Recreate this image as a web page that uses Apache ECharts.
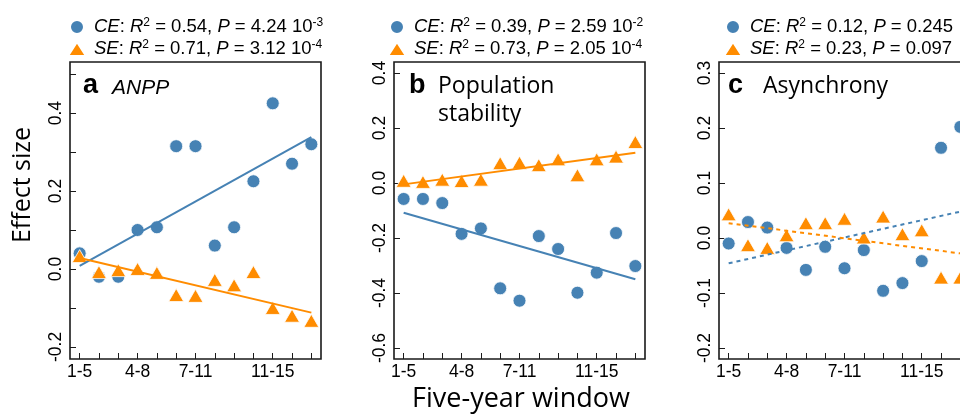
<!DOCTYPE html>
<html>
<head>
<meta charset="utf-8">
<script src="https://cdn.jsdelivr.net/npm/echarts@6/dist/echarts.min.js"></script>
<style>
html,body{margin:0;padding:0;background:#fff;}
#chart{width:960px;height:416px;}
</style>
</head>
<body>
<div id="chart"></div>
<script>
// ---------- data ----------
const windows = ['1-5','2-6','3-7','4-8','5-9','6-10','7-11','8-12','9-13','10-14','11-15','12-16','13-17'];
const shownLabels = ['1-5','4-8','7-11','11-15'];

const anppCE = [0.04, -0.02, -0.02, 0.10, 0.107, 0.315, 0.315, 0.06, 0.107, 0.225, 0.425, 0.27, 0.32];
const anppSE = [0.033, -0.008, -0.003, 0.0, -0.01, -0.067, -0.069, -0.028, -0.042, -0.008, -0.10, -0.12, -0.133];
const anppFitCE = [0.008, 0.338];
const anppFitSE = [0.028, -0.112];

const stabCE = [-0.058, -0.058, -0.073, -0.185, -0.165, -0.383, -0.428, -0.193, -0.24, -0.399, -0.326, -0.182, -0.302];
const stabSE = [0.008, 0.004, 0.012, 0.007, 0.012, 0.072, 0.074, 0.065, 0.086, 0.028, 0.086, 0.096, 0.149];
const stabFitCE = [-0.108, -0.35];
const stabFitSE = [-0.005, 0.11];

const asynCE = [-0.01, 0.029, 0.019, -0.018, -0.058, -0.016, -0.055, -0.022, -0.096, -0.082, -0.042, 0.164, 0.202];
const asynSE = [0.043, -0.013, -0.018, 0.005, 0.027, 0.027, 0.035, 0.001, 0.039, 0.007, 0.014, -0.072, -0.072];
const asynFitCE = [-0.046, 0.048];
const asynFitSE = [0.027, -0.028];

const legendTexts = {
  aCE: '{i|CE}: {i|R}{s|2} = 0.54, {i|P} = 4.24 10{s|-3}',
  aSE: '{i|SE}: {i|R}{s|2} = 0.71, {i|P} = 3.12 10{s|-4}',
  bCE: '{i|CE}: {i|R}{s|2} = 0.39, {i|P} = 2.59 10{s|-2}',
  bSE: '{i|SE}: {i|R}{s|2} = 0.73, {i|P} = 2.05 10{s|-4}',
  cCE: '{i|CE}: {i|R}{s|2} = 0.12, {i|P} = 0.245',
  cSE: '{i|SE}: {i|R}{s|2} = 0.23, {i|P} = 0.097'
};

const yA = {min:-0.231, max:0.531, ticks:[-0.2,-0.1,0,0.1,0.2,0.3,0.4,0.5], labels:[-0.2,0,0.2,0.4]};
const yB = {min:-0.64, max:0.44, ticks:[-0.6,-0.4,-0.2,0,0.2,0.4], labels:[-0.6,-0.4,-0.2,0,0.2,0.4]};
const yC = {min:-0.22, max:0.32, ticks:[-0.2,-0.1,0,0.1,0.2,0.3], labels:[-0.2,-0.1,0,0.1,0.2,0.3]};

// ---------- styles ----------
const BLUE = '#4682B4';
const ORANGE = '#FF8C00';
const FONT = 'Liberation Sans, Arial, sans-serif';
const SANS2 = 'Open Sans, Lato, sans-serif';
const TRI_ICON = 'path://M0,14L9,0L18,14Z';

const grids = [
  {left:70, top:62, width:251, height:297},
  {left:394, top:62, width:251, height:297},
  {left:719, top:62, width:251, height:297}
].map(g => Object.assign(g, {show:true, borderColor:'#1a1a1a', borderWidth:1.6, backgroundColor:'transparent',
  outerBoundsMode:'none', containLabel:false}));

function xAxis(i){
  return {
    type:'category', gridIndex:i, data:windows, boundaryGap:true,
    axisLine:{show:false, onZero:false},
    axisTick:{show:true, inside:true, length:6, alignWithLabel:true, interval:0, lineStyle:{color:'#1a1a1a', width:1}},
    axisLabel:{interval:(idx, v) => shownLabels.includes(v), color:'#000', fontFamily:FONT, fontSize:17.5, margin:4},
    splitLine:{show:false}
  };
}
function yAxis(i, y){
  return {
    type:'value', gridIndex:i, min:y.min, max:y.max,
    axisLine:{show:false, onZero:false},
    axisTick:{show:true, inside:true, length:6, customValues:y.ticks, lineStyle:{color:'#1a1a1a', width:1}},
    axisLabel:{customValues:y.labels, rotate:90, color:'#000', fontFamily:FONT, fontSize:17.5, margin:5,
      formatter:v => Number(v).toFixed(1)},
    splitLine:{show:false}
  };
}
function pts(name, i, data, color, symbol){
  return {
    name, type:'scatter', xAxisIndex:i, yAxisIndex:i,
    data: data.map((v,k) => [windows[k], v]),
    symbol, symbolSize: symbol === 'circle' ? 13 : [15,13],
    itemStyle:{color, borderColor:'#fff', borderWidth:0.8, opacity:1},
    z: symbol === 'circle' ? 2 : 3
  };
}
function fit(i, ends, color, dashed){
  return {
    type:'line', xAxisIndex:i, yAxisIndex:i, symbol:'none', silent:true,
    data:[[windows[0], ends[0]], [windows[windows.length-1], ends[1]]],
    lineStyle:{color, width:2, type: dashed ? [4,4] : 'solid'}, z:4
  };
}
function legend(left, names){
  return {
    orient:'vertical', left, top:12, itemWidth:18, itemHeight:14, itemGap:2,
    selectedMode:false, symbolKeepAspect:true,
    data:[{name:names[0], icon:'circle', itemStyle:{color:BLUE}}, {name:names[1], icon:TRI_ICON, itemStyle:{color:ORANGE}}],
    formatter: n => legendTexts[n],
    textStyle:{fontFamily:FONT, fontSize:18.5, color:'#000', lineHeight:20, padding:[0,0,0,3],
      rich:{
        i:{fontStyle:'italic', fontFamily:FONT, fontSize:18.5, color:'#000', lineHeight:20},
        s:{fontFamily:FONT, fontSize:12, color:'#000', verticalAlign:'top', lineHeight:20}
      }}
  };
}

function txt(x, y, text, font, extra){
  return Object.assign({type:'text', x, y, style:{text, font, fill:'#000', align:'left', verticalAlign:'middle'}}, extra||{});
}

const option = {
  animation:false,
  backgroundColor:'#fff',
  grid: grids,
  xAxis:[xAxis(0), xAxis(1), xAxis(2)],
  yAxis:[yAxis(0,yA), yAxis(1,yB), yAxis(2,yC)],
  legend:[legend(62,['aCE','aSE']), legend(382,['bCE','bSE']), legend(718,['cCE','cSE'])],
  series:[
    pts('aCE',0,anppCE,BLUE,'circle'), pts('aSE',0,anppSE,ORANGE,'triangle'),
    fit(0,anppFitCE,BLUE,false), fit(0,anppFitSE,ORANGE,false),
    pts('bCE',1,stabCE,BLUE,'circle'), pts('bSE',1,stabSE,ORANGE,'triangle'),
    fit(1,stabFitCE,BLUE,false), fit(1,stabFitSE,ORANGE,false),
    pts('cCE',2,asynCE,BLUE,'circle'), pts('cSE',2,asynSE,ORANGE,'triangle'),
    fit(2,asynFitCE,BLUE,true), fit(2,asynFitSE,ORANGE,true)
  ],
  graphic:[
    txt(83, 86, 'a', 'bold 27px ' + FONT),
    txt(112, 88, 'ANPP', 'italic 21px ' + FONT),
    txt(409, 86, 'b', 'bold 27px ' + FONT),
    txt(438, 86, 'Population', '23px ' + SANS2),
    txt(438, 114, 'stability', '23px ' + SANS2),
    txt(728, 86, 'c', 'bold 27px ' + FONT),
    txt(763, 86, 'Asynchrony', '23px ' + SANS2),
    {type:'text', x:23, y:185, rotation:Math.PI/2,
      style:{text:'Effect size', font:'25px ' + SANS2, fill:'#000', align:'center', verticalAlign:'middle'}},
    {type:'text', x:521, y:399,
      style:{text:'Five-year window', font:'27px ' + SANS2, fill:'#000', align:'center', verticalAlign:'middle'}}
  ]
};

const chart = echarts.init(document.getElementById('chart'), null, {renderer:'canvas'});
chart.setOption(option);
</script>
</body>
</html>
